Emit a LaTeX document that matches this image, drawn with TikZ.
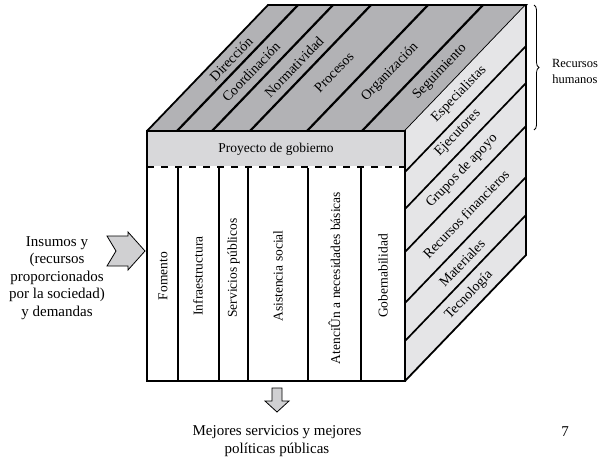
\documentclass[tikz,border=0pt]{standalone}
\usepackage{fontspec}
\setmainfont{Liberation Serif}
\usetikzlibrary{decorations.pathreplacing}
\definecolor{topgray}{HTML}{B2B2B5}
\definecolor{bandgray}{HTML}{D8D8DA}
\definecolor{sidegray}{HTML}{E5E5E7}
\definecolor{arrowgray}{HTML}{D0D0D2}
\begin{document}
\begin{tikzpicture}[x=1pt,y=-1pt,
  edge/.style={line width=1.8pt,line join=miter},
  stripe/.style={line width=2.2pt},
  sideline/.style={line width=1.7pt},
  inner/.style={font=\fontsize{13.5}{16}\selectfont,inner sep=0pt},
  slanted/.style={font=\fontsize{14}{16}\selectfont,inner sep=0pt,rotate=46},
  outer/.style={font=\fontsize{15}{17.5}\selectfont,align=center,inner sep=0pt},
  blockarrow/.style={draw=black,line width=0.8pt,fill=arrowgray,line join=miter}]
\useasboundingbox (0,0) rectangle (600,461);

% cube corners
\coordinate (FTL) at (147,131);
\coordinate (FTR) at (405,131);
\coordinate (FBL) at (147,381);
\coordinate (FBR) at (405,381);
\coordinate (BTL) at (268,5);
\coordinate (BTR) at (526,5);
\coordinate (BBR) at (526,255);

% top face
\fill[topgray] (FTL) -- (BTL) -- (BTR) -- (FTR) -- cycle;
\foreach \x in {177,212,250,307,362}
  \draw[stripe] (\x,131) -- ++(121,-126);
\draw[edge] (FTL) -- (BTL) -- (BTR) -- (FTR);

% right face
\fill[sidegray] (FTR) -- (BTR) -- (BBR) -- (FBR) -- cycle;
\foreach \y in {172,209,252,303,341}
  \draw[sideline] (405,\y) -- ++(121,-126);
\draw[edge] (BTR) -- (BBR) -- (FBR);

% front face
\fill[bandgray] (147,131) rectangle (405,166);
\fill[white] (147,166) rectangle (405,381);
\foreach \x in {178,219,248,308,361}
  \draw[edge] (\x,168) -- (\x,381);
\draw[edge] (147,131) rectangle (405,381);
\draw[line width=2pt,dash pattern=on 7pt off 7pt] (147,167) -- (405,167);
\draw[edge] (FTR) -- (FBR);

% top face labels
\node[slanted] (dir) at (231,59) {Dirección};
\node[slanted] (coo) at (251,72) {Coordinación};
\node[slanted] (nor) at (294,67) {Normatividad};
\node[slanted] (pro) at (334,72) {Procesos};
\node[slanted] (org) at (390,72) {Organización};
\node[slanted] (seg) at (440,72) {Seguimiento};

% right face labels
\node[slanted] (esp) at (459,94) {Especialistas};
\node[slanted] (eje) at (458,133) {Ejecutores};
\node[slanted] (gru) at (462,171) {Grupos de apoyo};
\node[slanted] (rec) at (466,214) {Recursos financieros};
\node[slanted] (mat) at (462,263) {Materiales};
\node[slanted] (tec) at (469,295) {Tecnología};

% front face labels
\node[inner] (pg) at (276,149) {Proyecto de gobierno};
\node[inner,rotate=90] (fom) at (163,276) {Fomento};
\node[inner,rotate=90] (inf) at (198,276) {Infraestructura};
\node[inner,rotate=90] (ser) at (233.5,268) {Servicios públicos};
\node[inner,rotate=90] (asi) at (278,276) {Asistencia social};
\node[inner,rotate=90] (ate) at (334.5,278) {AtenciÛn a necesidades básicas};
\node[inner,rotate=90] (gob) at (383,276) {Gobernabilidad};

% human resources brace
\draw[line width=0.8pt,decorate,decoration={brace,amplitude=5pt}] (534,5) -- (534,130);
\node[outer,font=\fontsize{12.5}{16}\selectfont] (rh) at (575,71) {Recursos\\humanos};

% inputs
\node[outer] (ins) at (57,278) {Insumos y\\(recursos\\proporcionados\\por la sociedad)\\y demandas};
\draw[blockarrow] (107,236) -- (128,236) -- (128,232) -- (145,251) -- (128,270)
  -- (128,266) -- (107,266) -- (116,251) -- cycle;

% outputs
\draw[blockarrow] (272,388) -- (282,388) -- (282,401) -- (289,401) -- (277,412)
  -- (265,401) -- (272,401) -- cycle;
\node[outer] (out) at (277,441) {Mejores servicios y mejores\\políticas públicas};
\node[outer] (num) at (565,432) {7};
\end{tikzpicture}
\end{document}
